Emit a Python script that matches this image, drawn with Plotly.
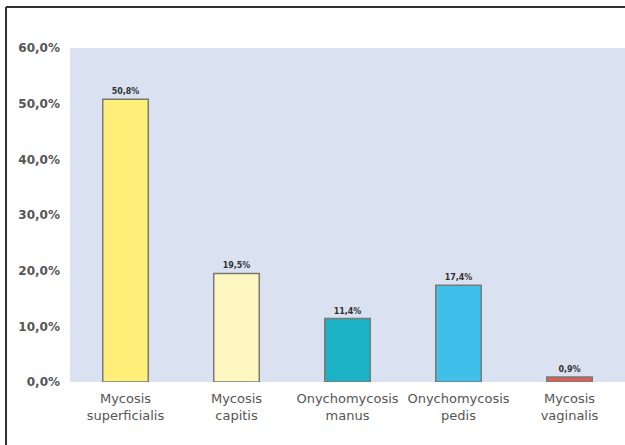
import plotly.graph_objects as go

categories = ["Mycosis<br>superficialis", "Mycosis<br>capitis", "Onychomycosis<br>manus",
              "Onychomycosis<br>pedis", "Mycosis<br>vaginalis"]
values = [50.8, 19.5, 11.4, 17.4, 0.9]
bar_colors = ["#FDEF78", "#FEF7C2", "#1CB3C6", "#3FC0EA", "#D8605C"]
y_ticks = [0, 10, 20, 30, 40, 50, 60]
y_ticktext = ["0,0%", "10,0%", "20,0%", "30,0%", "40,0%", "50,0%", "60,0%"]
bar_text = ["50,8%", "19,5%", "11,4%", "17,4%", "0,9%"]

fig = go.Figure()
fig.add_trace(go.Bar(
    x=categories, y=values,
    marker=dict(color=bar_colors, line=dict(color="#7A7A70", width=1.5)),
    width=0.41,
    text=bar_text, textposition="outside",
    textfont=dict(family="DejaVu Sans", size=8, color="#333333", weight="bold"),
    cliponaxis=False,
))

fig.update_layout(
    width=625, height=445,
    margin=dict(l=70, r=0, t=48, b=63),
    paper_bgcolor="white",
    plot_bgcolor="#DAE2F1",
    showlegend=False,
    bargap=0.59,
    xaxis=dict(
        showgrid=False, zeroline=False, showline=False,
        tickfont=dict(family="DejaVu Sans", size=13, color="#555555"),
        ticks="", ticklabelstandoff=7,
    ),
    yaxis=dict(
        range=[0, 60], tickvals=y_ticks, ticktext=y_ticktext,
        showgrid=False, zeroline=False, showline=False,
        tickfont=dict(family="DejaVu Sans", size=12, color="#555555", weight="bold"),
        ticks="", ticklabelstandoff=9,
    ),
    shapes=[
        dict(type="line", xref="paper", yref="paper", x0=-0.1153, x1=1.01, y0=1.1228, y1=1.1228,
             line=dict(color="#333333", width=2)),
        dict(type="line", xref="paper", yref="paper", x0=-0.1153, x1=-0.1153, y0=1.1228, y1=-0.2,
             line=dict(color="#333333", width=2)),
    ],
)

fig.write_html("out.html")
